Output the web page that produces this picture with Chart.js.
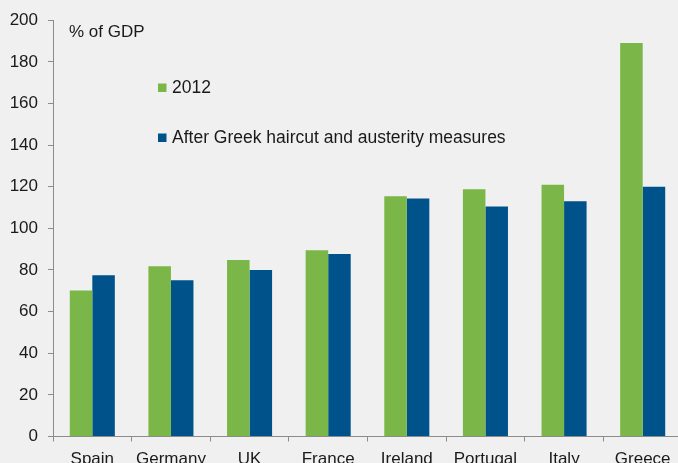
<!DOCTYPE html>
<html>
<head>
<meta charset="utf-8">
<script src="https://cdn.jsdelivr.net/npm/chart.js@4"></script>
<style>
  html, body { margin: 0; padding: 0; background: #f0f0f0; overflow: hidden; }
  #wrap { width: 700px; height: 463px; }
</style>
</head>
<body>
<div id="wrap"><canvas id="debt-chart" width="700" height="463"></canvas></div>
<script>
/** Countries along the x axis */
const countries = ['Spain', 'Germany', 'UK', 'France', 'Ireland', 'Portugal', 'Italy', 'Greece'];
/** Debt in 2012, % of GDP */
const debt2012 = [70.2, 81.8, 84.8, 89.5, 115.4, 118.8, 121.0, 189.0];
/** Debt after Greek haircut and austerity measures, % of GDP */
const debtAfter = [77.5, 75.1, 80.0, 87.7, 114.3, 110.5, 113.0, 120.0];
/** Y axis ticks */
const yTicks = [0, 20, 40, 60, 80, 100, 120, 140, 160, 180, 200];

const axisGrey = '#8c8c8c';
const textColor = '#1a1a1a';
const font = {family: 'Liberation Sans, Arial, sans-serif', size: 17};

/** Draws the unit label and the legend inside the plot */
const insideLabels = {
  id: 'insideLabels',
  afterDraw: (chart) => {
    const ctx = chart.ctx;
    ctx.save();
    ctx.fillStyle = textColor;
    ctx.textBaseline = 'middle';
    ctx.textAlign = 'left';
    ctx.font = `${font.size}px ${font.family}`;
    ctx.fillText('% of GDP', 69, 32);

    ctx.font = `17.5px ${font.family}`;
    const rows = [88, 138];
    chart.data.datasets.forEach((ds, i) => {
      ctx.fillStyle = ds.backgroundColor;
      ctx.fillRect(158, rows[i] - 4.5, 8.5, 8.5);
      ctx.fillStyle = textColor;
      ctx.fillText(ds.label, 172, rows[i]);
    });
    ctx.restore();
  }
};

new Chart(document.getElementById('debt-chart'), {
  type: 'bar',
  data: {
    labels: countries,
    datasets: [{
      label: '2012',
      data: debt2012,
      backgroundColor: '#7ab648',
      borderColor: '#a9d18e',
      borderWidth: 0,
    }, {
      label: 'After Greek haircut and austerity measures',
      data: debtAfter,
      backgroundColor: '#00538a',
      borderColor: '#7fa9c9',
      borderWidth: 0,
    }]
  },
  options: {
    responsive: false,
    animation: false,
    layout: {padding: {top: 18, right: 18, left: 0, bottom: 0}},
    categoryPercentage: 0.573,
    barPercentage: 1,
    scales: {
      x: {
        offset: true,
        grid: {display: true, offset: true, drawOnChartArea: false, tickLength: 5, color: axisGrey},
        border: {display: true, color: axisGrey, width: 1},
        ticks: {color: textColor, font: font, padding: 8, maxRotation: 0, autoSkip: false},
        afterFit: (scale) => { scale.height = 26.5; },
      },
      y: {
        min: 0,
        max: 200,
        afterBuildTicks: (scale) => { scale.ticks = yTicks.map(v => ({value: v})); },
        grid: {display: true, drawOnChartArea: false, tickLength: 5, color: axisGrey},
        border: {display: true, color: axisGrey, width: 1},
        ticks: {color: textColor, font: font, padding: 10},
        afterFit: (scale) => { scale.width = 53; },
      }
    },
    plugins: {
      legend: {display: false},
      tooltip: {enabled: false}
    }
  },
  plugins: [insideLabels]
});
</script>
</body>
</html>
